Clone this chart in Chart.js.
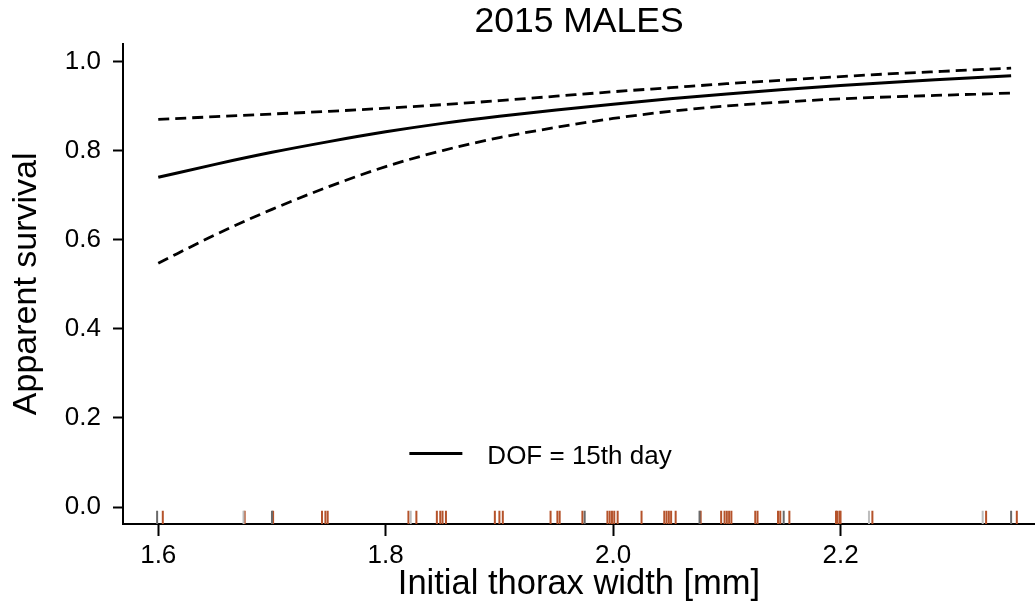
<!DOCTYPE html>
<html>
<head>
<meta charset="utf-8">
<script src="https://cdn.jsdelivr.net/npm/chart.js@4"></script>
<style>
  html, body { margin: 0; padding: 0; background: #fff; }
  canvas { display: block; }
</style>
</head>
<body>
<canvas id="chart" width="1035" height="613"></canvas>
<script>
// thorax widths (mm) at which the fitted curves were read
const widths = [1.60, 1.65, 1.70, 1.75, 1.80, 1.85, 1.90, 1.95, 2.00, 2.05, 2.10, 2.15, 2.20, 2.25, 2.30, 2.35];
const survival = [0.740, 0.769, 0.796, 0.820, 0.842, 0.861, 0.877, 0.891, 0.904, 0.916, 0.927, 0.937, 0.946, 0.954, 0.961, 0.968];
const upperCI = [0.870, 0.876, 0.882, 0.888, 0.895, 0.903, 0.912, 0.922, 0.932, 0.941, 0.950, 0.958, 0.966, 0.973, 0.979, 0.985];
const lowerCI = [0.547, 0.611, 0.668, 0.719, 0.764, 0.800, 0.829, 0.852, 0.872, 0.888, 0.900, 0.909, 0.916, 0.921, 0.925, 0.929];

// rug of individual widths
const rugOrange = [1.604, 1.676, 1.701, 1.744, 1.747, 1.749, 1.820, 1.827, 1.845, 1.848, 1.850, 1.853,
  1.896, 1.900, 1.903, 1.945, 1.951, 1.953, 1.973, 1.995, 1.997, 1.999, 2.001, 2.004, 2.025,
  2.045, 2.047, 2.049, 2.051, 2.055, 2.077, 2.095, 2.098, 2.100, 2.102, 2.104, 2.125, 2.127,
  2.145, 2.147, 2.155, 2.196, 2.197, 2.199, 2.200, 2.228, 2.328, 2.355];
const rugDark = [1.599, 1.700, 1.975, 2.076, 2.150, 2.350];
const rugLight = [1.675, 1.822, 2.225, 2.325];

const xTicks = [1.6, 1.8, 2.0, 2.2];
const yTicks = [0.0, 0.2, 0.4, 0.6, 0.8, 1.0];

const RUG_Y = -0.024;
const FONT = '"Liberation Sans", Arial, sans-serif';

Chart.defaults.font.family = FONT;
Chart.defaults.color = '#000';

function curve(vals) {
  return widths.map((x, i) => ({ x: x, y: vals[i] }));
}
function rug(vals) {
  return vals.map(x => ({ x: x, y: RUG_Y }));
}
function rugSet(vals, colour) {
  return {
    data: rug(vals),
    pointStyle: 'line',
    rotation: 90,
    radius: 7,
    borderWidth: 2,
    borderColor: colour,
    backgroundColor: colour,
    showLine: false
  };
}

// legend drawn inside the plot area
const insideLegend = {
  id: 'insideLegend',
  afterDatasetsDraw(chart) {
    const { ctx, chartArea: ca } = chart;
    const ds = chart.data.datasets[0];
    const y = ca.top + 0.853 * (ca.bottom - ca.top);
    const x0 = ca.left + 0.314 * (ca.right - ca.left);
    ctx.save();
    ctx.strokeStyle = '#000';
    ctx.lineWidth = 3;
    ctx.beginPath();
    ctx.moveTo(x0, y);
    ctx.lineTo(x0 + 53, y);
    ctx.stroke();
    ctx.fillStyle = '#000';
    ctx.font = '26px ' + FONT;
    ctx.textBaseline = 'middle';
    ctx.fillText(ds.label, x0 + 78, y + 3);
    ctx.restore();
  }
};

new Chart(document.getElementById('chart'), {
  type: 'scatter',
  data: {
    datasets: [
      { label: 'DOF = 15th day', data: curve(survival), showLine: true, borderColor: '#000', borderWidth: 3,
        pointRadius: 0, cubicInterpolationMode: 'monotone' },
      { label: 'upper', data: curve(upperCI), showLine: true, borderColor: '#000', borderWidth: 2.8,
        borderDash: [11, 6], pointRadius: 0, cubicInterpolationMode: 'monotone' },
      { label: 'lower', data: curve(lowerCI), showLine: true, borderColor: '#000', borderWidth: 2.8,
        borderDash: [11, 6], pointRadius: 0, cubicInterpolationMode: 'monotone' },
      rugSet(rugLight, '#bdbdbd'),
      rugSet(rugDark, '#6a6a6a'),
      rugSet(rugOrange, '#b5532b')
    ]
  },
  options: {
    responsive: false,
    animation: false,
    layout: { padding: 0, autoPadding: false },
    plugins: {
      legend: { display: false },
      tooltip: { enabled: false },
      title: {
        display: true,
        text: '2015 MALES',
        fullSize: false,
        font: { size: 35.5, weight: 'normal' },
        color: '#000',
        padding: { top: 1, bottom: 0 }
      }
    },
    scales: {
      x: {
        type: 'linear',
        min: 1.569,
        max: 2.371,
        afterBuildTicks: s => { s.ticks = xTicks.map(v => ({ value: v })); },
        afterFit: s => { s.height = 89; },
        ticks: { font: { size: 26 }, color: '#000', padding: 4, maxRotation: 0, autoSkip: false,
          callback: v => Number(v).toFixed(1) },
        grid: { drawOnChartArea: false, drawTicks: true, tickLength: 12, tickWidth: 2, tickColor: '#000' },
        border: { display: true, color: '#000', width: 2 },
        title: { display: true, text: 'Initial thorax width [mm]', font: { size: 34.5 }, color: '#000',
          padding: { top: 0, bottom: 7.6 } }
      },
      y: {
        min: -0.038,
        max: 1.04,
        afterBuildTicks: s => { s.ticks = yTicks.map(v => ({ value: v })); },
        afterFit: s => { s.width = 123; },
        ticks: { font: { size: 26 }, color: '#000', padding: 12, autoSkip: false,
          callback: v => Number(v).toFixed(1) },
        grid: { drawOnChartArea: false, drawTicks: true, tickLength: 10, tickWidth: 2, tickColor: '#000' },
        border: { display: true, color: '#000', width: 2 },
        title: { display: true, text: 'Apparent survival', font: { size: 34 }, color: '#000',
          padding: { top: 5.8, bottom: 0 } }
      }
    }
  },
  plugins: [insideLegend]
});
</script>
</body>
</html>
